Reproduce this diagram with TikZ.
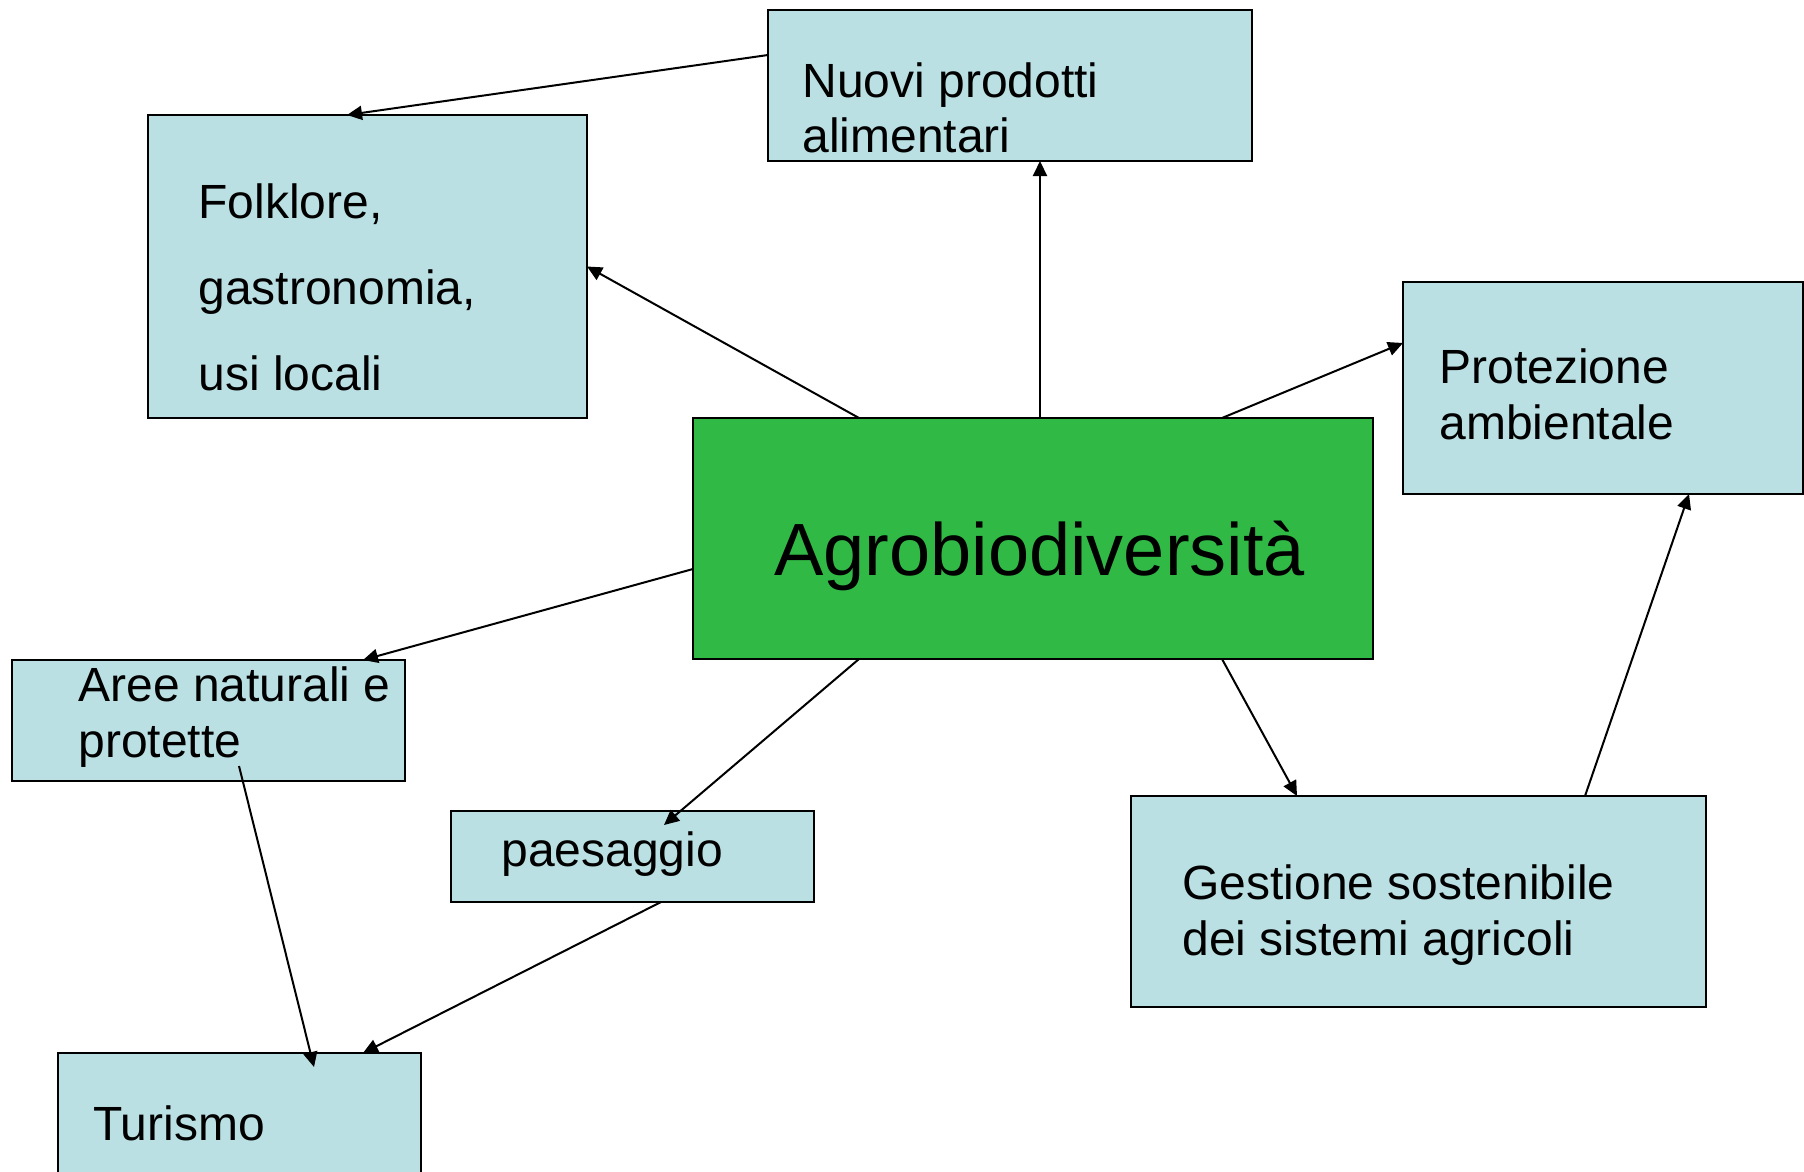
\documentclass[tikz,border=0pt]{standalone}
\usepackage{fontspec}
\setmainfont{Liberation Sans}
\usetikzlibrary{arrows.meta, calc}
\definecolor{topicblue}{HTML}{BBE0E3}
\definecolor{coregreen}{HTML}{31B946}
\tikzset{
    topic/.style={
        rectangle,
        draw=black,
        line width=1pt,
        fill=topicblue,
        inner sep=0pt,
        outer sep=0pt,
        anchor=north west
    },
    core/.style={
        topic,
        fill=coregreen
    },
    boxtext/.style={
        anchor=base west,
        align=left,
        inner sep=0pt,
        font=\fontsize{24pt}{28pt}\selectfont
    },
    link/.style={
        draw=black,
        line width=1pt,
        -{Triangle[length=7.5pt,width=7pt]}
    }
}

\begin{document}
\begin{tikzpicture}[x=0.5pt, y=-0.5pt]

\clip (0,0) rectangle (1804,1172);
\fill[white] (0,0) rectangle (1804,1172);

% Central topic
\node[core, minimum width=340pt, minimum height=120.5pt] (agro) at (693,418) {};
\node[boxtext, font=\fontsize{37pt}{40pt}\selectfont] (agro-t) at (774,575) {Agrobiodiversità};

% Upper boxes (text anchored on its last line)
\node[topic, minimum width=242pt, minimum height=75.5pt] (nuovi) at (768,10) {};
\node[boxtext] (nuovi-t) at (802,153) {Nuovi prodotti\\alimentari};

\node[topic, minimum width=219.5pt, minimum height=151.5pt] (folk) at (148,115) {};
\node[boxtext, font=\fontsize{24pt}{43pt}\selectfont] (folk-t) at (198,390) {Folklore,\\gastronomia,\\usi locali};

\node[topic, minimum width=200pt, minimum height=106pt] (prot) at (1403,282) {};
\node[boxtext] (prot-t) at (1439,439) {Protezione\\ambientale};

% Lower boxes
\node[topic, minimum width=196.5pt, minimum height=60.5pt] (aree) at (12,660) {};
\node[boxtext] (aree-t) at (78,757) {Aree naturali e\\protette};

\node[topic, minimum width=181.5pt, minimum height=45.5pt] (paes) at (451,811) {};
\node[boxtext] (paes-t) at (501,866) {paesaggio};

\node[topic, minimum width=287.5pt, minimum height=105.5pt] (gest) at (1131,796) {};
\node[boxtext] (gest-t) at (1182,955) {Gestione sostenibile\\dei sistemi agricoli};

\node[topic, minimum width=181.5pt, minimum height=100pt] (tur) at (58,1053) {};
\node[boxtext] (tur-t) at (93,1140) {Turismo};

% Links from the central topic
\draw[link] ($(agro.north west)+(347,0)$) -- ($(nuovi.south west)+(272,0)$);
\draw[link] ($(agro.north west)+(166,0)$) -- (folk.east);
\draw[link] ($(agro.north west)+(529,0)$) -- ($(prot.north west)+(0,61)$);
\draw[link] ($(agro.north west)+(0,151)$) -- ($(aree.north west)+(351,0)$);
\draw[link] ($(agro.south west)+(166,0)$) -- ($(paes.north west)+(213,14)$);
\draw[link] ($(agro.south west)+(529,0)$) -- ($(gest.north west)+(166,0)$);

% Other links
\draw[link] ($(nuovi.north west)+(0,45)$) -- ($(folk.north west)+(199,0)$);
\draw[link] ($(gest.north west)+(454,0)$) -- ($(prot.south west)+(286,0)$);
\draw[link] ($(aree.north west)+(227,106)$) -- ($(tur.north west)+(256,14)$);
\draw[link] ($(paes.south west)+(210,0)$) -- ($(tur.north west)+(305,0)$);

\end{tikzpicture}
\end{document}
